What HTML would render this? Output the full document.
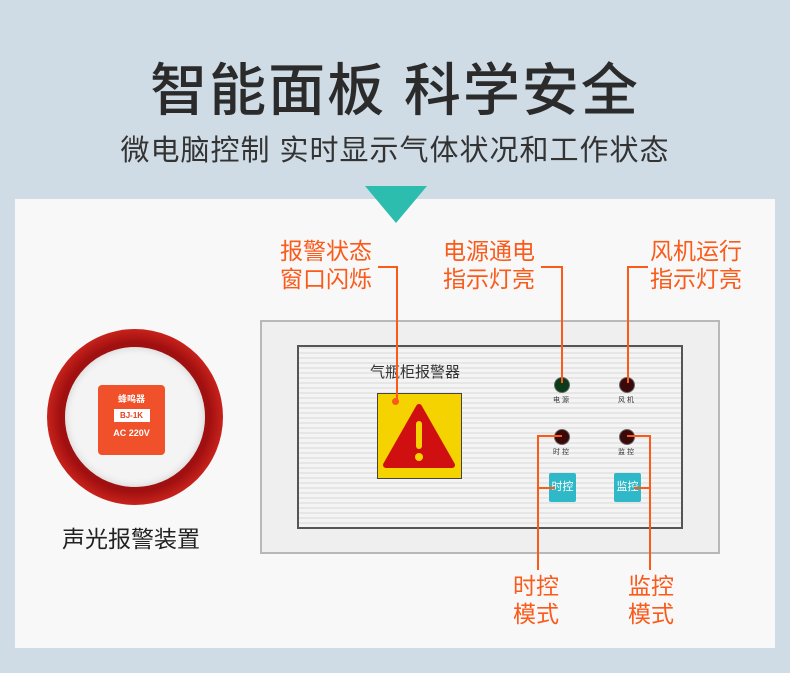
<!DOCTYPE html>
<html><head><meta charset="utf-8"><style>
*{margin:0;padding:0}
body{width:790px;height:673px;background:#cfdce5;position:relative;overflow:hidden;font-family:"Liberation Sans","Noto Sans CJK SC",sans-serif}
.a{position:absolute}
.o{color:#fa5a1a;font-size:23px;line-height:28px;white-space:nowrap}
.ln{position:absolute;background:#fa5a1a}
.led{position:absolute;width:14px;height:14px;border-radius:50%;background:#3a0a0a;border:1px solid #666}
.sm{position:absolute;font-size:7px;color:#333}
.btn{position:absolute;width:27px;height:29px;background:#2fb8c8;border-radius:2px;color:#fff;font-size:11px;line-height:29px;text-align:center}
</style></head><body>
<div class="a" style="left:0;top:45px;width:790px;text-align:center;font-size:57px;font-weight:500;color:#2b2b2b;letter-spacing:2px">智能面板 科学安全</div>
<div class="a" style="left:0;top:127px;width:790px;text-align:center;font-size:29px;color:#333;letter-spacing:1px">微电脑控制 实时显示气体状况和工作状态</div>
<div class="a" style="left:15px;top:199px;width:760px;height:449px;background:#f8f8f8"></div>
<svg class="a" style="left:365px;top:186px" width="62" height="37"><polygon points="0,0 62,0 31,37" fill="#2dbdae"/></svg>

<div class="a" style="left:47px;top:329px;width:176px;height:176px;border-radius:50%;background:radial-gradient(circle,#a01010 60%,#d82a20 75%,#b81818 100%)"></div>
<div class="a" style="left:65px;top:347px;width:140px;height:140px;border-radius:50%;background:#f4f4f4;box-shadow:inset 0 0 8px #ccc"></div>
<div class="a" style="left:98px;top:385px;width:67px;height:70px;background:#f0502a;border-radius:4px;color:#fff;text-align:center;font-weight:bold">
<div style="font-size:9px;margin-top:7px">蜂鸣器</div>
<div style="margin:4px auto 0;width:36px;height:13px;background:#fff;color:#e04020;font-size:8px;line-height:13px">BJ-1K</div>
<div style="font-size:9px;margin-top:6px">AC 220V</div></div>
<div class="a" style="left:62px;top:520px;font-size:23px;color:#222">声光报警装置</div>

<div class="a" style="left:260px;top:320px;width:456px;height:230px;background:#efefef;border:2px solid #b8b8b8"></div>
<div class="a" style="left:297px;top:345px;width:382px;height:180px;border:2px solid #555;background:repeating-linear-gradient(#e6e6e6 0 2px,#f4f4f4 2px 5px)"></div>
<div class="a" style="left:370px;top:361px;font-size:15px;color:#333">气瓶柜报警器</div>
<div class="a" style="left:377px;top:393px;width:83px;height:84px;background:#f5d300;border:1px solid #444"></div>
<svg class="a" style="left:383px;top:403px" width="72" height="66"><polygon points="36,4 69,62 3,62" fill="#d01010" stroke="#d01010" stroke-width="6" stroke-linejoin="round"/><rect x="33" y="18" width="6" height="28" rx="3" fill="#f5d300"/><circle cx="36" cy="54" r="4" fill="#f5d300"/></svg>
<div class="led" style="left:554px;top:377px;background:#0c3a1a"></div>
<div class="led" style="left:619px;top:377px"></div>
<div class="led" style="left:554px;top:429px"></div>
<div class="led" style="left:619px;top:429px"></div>
<div class="sm" style="left:553px;top:395px">电 源</div>
<div class="sm" style="left:618px;top:395px">风 机</div>
<div class="sm" style="left:553px;top:447px">时 控</div>
<div class="sm" style="left:618px;top:447px">监 控</div>
<div class="btn" style="left:549px;top:473px">时控</div>
<div class="btn" style="left:614px;top:473px">监控</div>

<div class="a o" style="left:280px;top:237px">报警状态<br>窗口闪烁</div>
<div class="a o" style="left:443px;top:237px">电源通电<br>指示灯亮</div>
<div class="a o" style="left:650px;top:237px">风机运行<br>指示灯亮</div>
<div class="a o" style="left:513px;top:572px">时控<br>模式</div>
<div class="a o" style="left:628px;top:572px">监控<br>模式</div>

<div class="ln" style="left:378px;top:266px;width:20px;height:2px"></div>
<div class="ln" style="left:396px;top:266px;width:2px;height:136px"></div>
<div class="ln" style="left:392px;top:398px;width:7px;height:7px;border-radius:50%"></div>
<div class="ln" style="left:541px;top:266px;width:22px;height:2px"></div>
<div class="ln" style="left:561px;top:266px;width:2px;height:117px"></div>
<div class="ln" style="left:627px;top:266px;width:21px;height:2px"></div>
<div class="ln" style="left:627px;top:266px;width:2px;height:117px"></div>
<div class="ln" style="left:537px;top:435px;width:25px;height:2px"></div>
<div class="ln" style="left:537px;top:435px;width:2px;height:135px"></div>
<div class="ln" style="left:537px;top:487px;width:18px;height:2px"></div>
<div class="ln" style="left:627px;top:435px;width:24px;height:2px"></div>
<div class="ln" style="left:649px;top:435px;width:2px;height:135px"></div>
<div class="ln" style="left:634px;top:487px;width:16px;height:2px"></div>
</body></html>
